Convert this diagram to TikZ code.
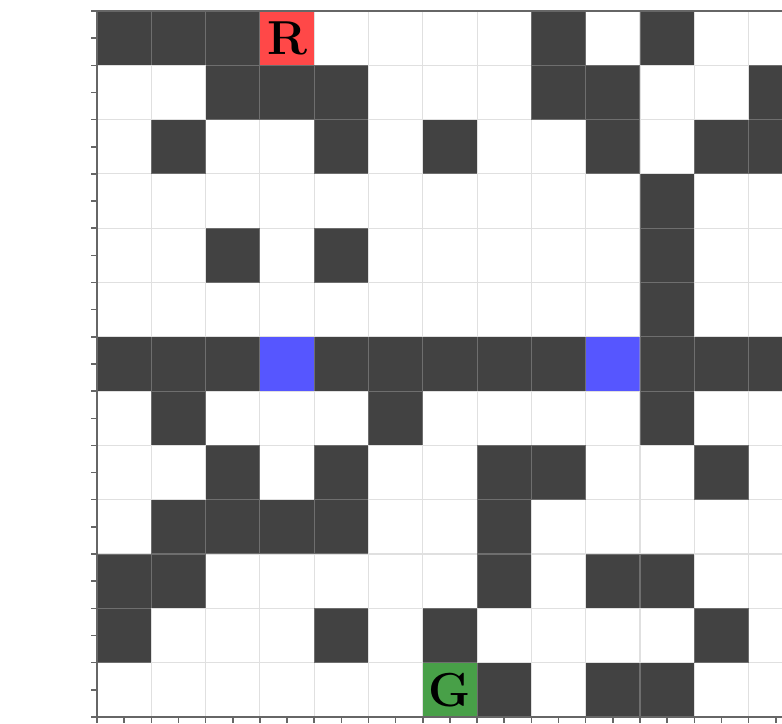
\documentclass[tikz,border=0pt]{standalone}
\usepackage{tikz}
\usetikzlibrary{positioning}
\definecolor{wall}{RGB}{66,66,66}
\definecolor{robotred}{RGB}{255,72,72}
\definecolor{goalgreen}{RGB}{72,160,72}
\definecolor{portalblue}{RGB}{86,86,255}
\tikzset{
  gridline/.style = {draw=white!70!black, opacity=0.4, line width=0.6pt},
  axisline/.style = {draw=black!60, line width=0.8pt},
  celltext/.style = {font=\fontsize{25}{30}\selectfont\bfseries, inner sep=0pt}
}

\begin{document}
\begin{tikzpicture}[x = 1cm, y = -1cm]
        \clip(-1.786,-0.203)rectangle(12.615,13.13);
        \fill[white](-1.786,-0.203)rectangle(12.615,13.13);
        % walls, row by row
        \foreach \r/\cols in {0/{0,1,2,8,10},1/{2,3,4,8,9,12},2/{1,4,6,9,11,12},3/{10},4/{2,4,10},5/{10},6/{0,1,2,4,5,6,7,8,10,11,12},7/{1,5,10},8/{2,4,7,8,11},9/{1,2,3,4,7},10/{0,1,7,9,10},11/{0,4,6,11},12/{7,9,10}}
            \foreach \c in \cols \fill[wall](\c,\r)rectangle++(1,1);
        \fill[robotred](3,0)rectangle(4,1);
        \fill[portalblue](3,6)rectangle(4,7); %portal
        \fill[portalblue](9,6)rectangle(10,7); %portal
        \fill[goalgreen](6,12)rectangle(7,13);
        \draw[gridline](0,0)grid(13,13);
        \node[celltext](robot) at (3.5,0.5){R};
        \node[celltext](goal) at (6.5,12.5){G};
        % frame and ticks
        \draw[axisline](13,0)--(0,0)--(0,13)--(13,13);
        \foreach \t in {0,0.5,...,13}{
            \draw[axisline](0,\t)--++(-0.11,0);
            \draw[axisline](\t,13)--++(0,0.11);
        }
    \end{tikzpicture}
\end{document}
